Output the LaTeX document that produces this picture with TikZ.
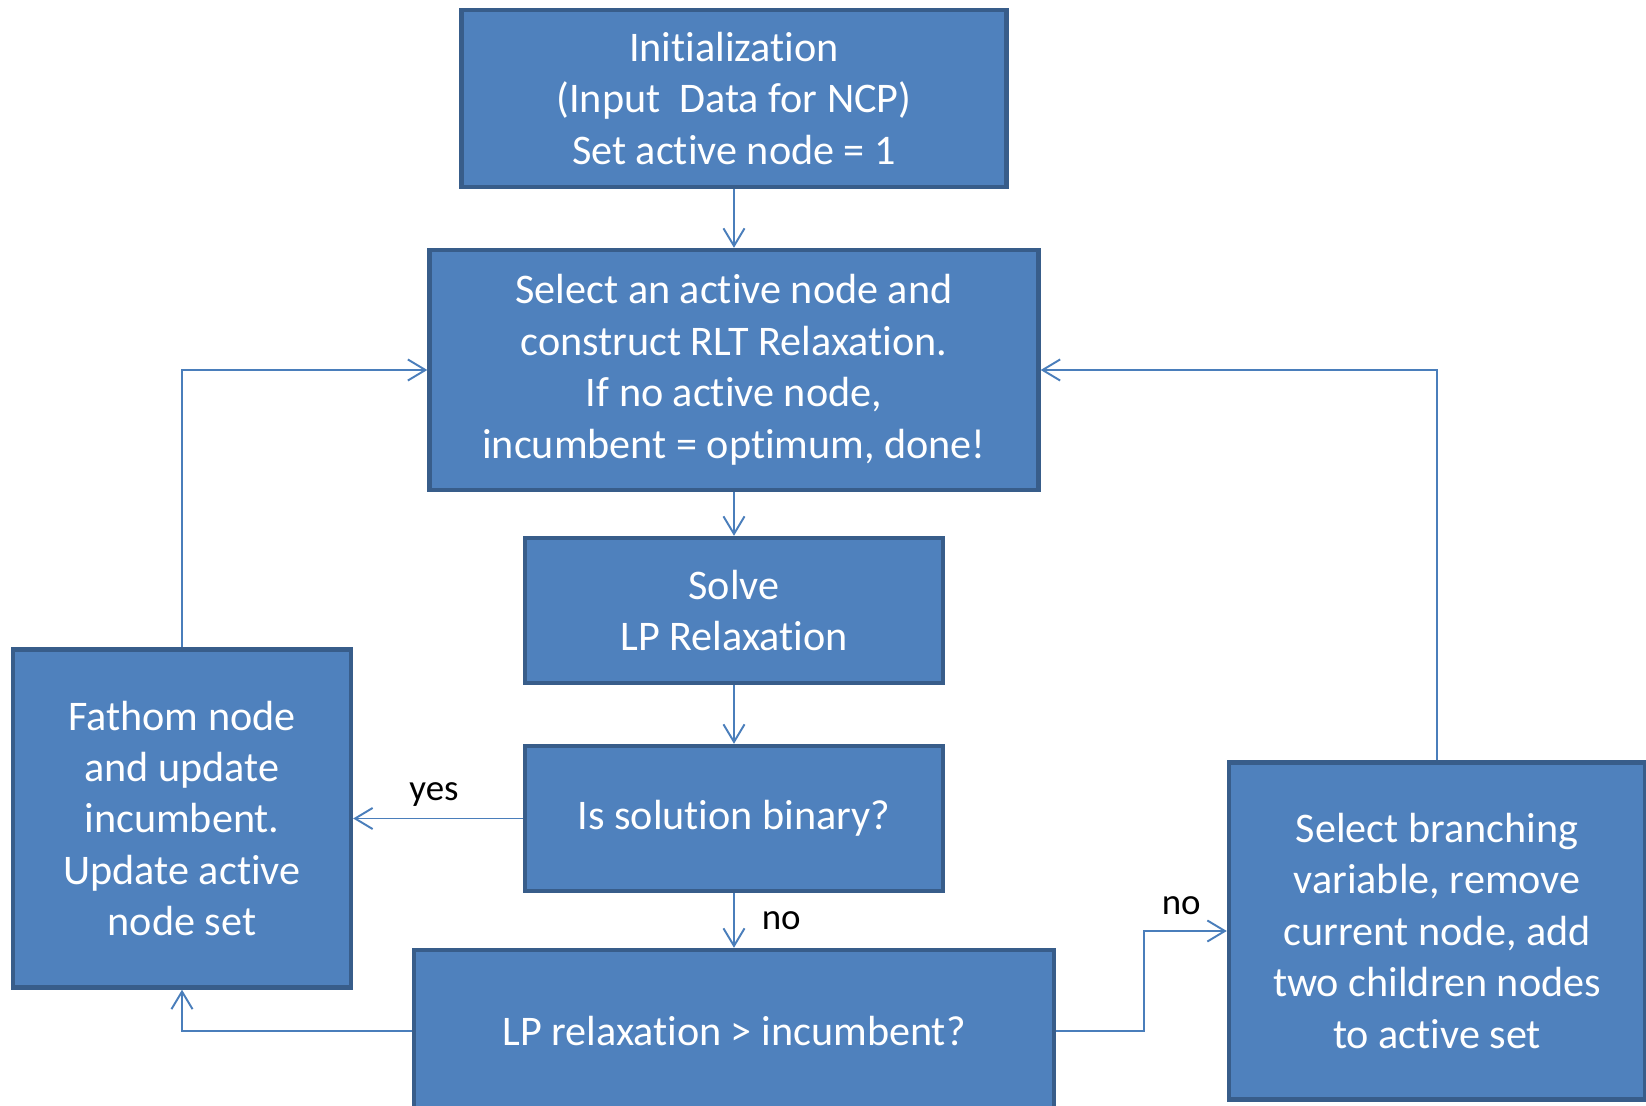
\documentclass[tikz,border=0pt]{standalone}
\usepackage{fontspec}
\setmainfont{Carlito}[Ligatures=NoCommon]
\usetikzlibrary{arrows.meta}
\definecolor{boxfill}{HTML}{4F81BD}
\definecolor{boxline}{HTML}{385D8A}
\definecolor{arrline}{HTML}{4A7EBB}
\tikzset{box/.style={rectangle,draw=boxline,fill=boxfill,line width=2.5pt,text=white,align=center,inner sep=0pt,font=\fontsize{24}{29.3}\selectfont},
  arr/.style={draw=arrline,line width=1.1pt,-{Straight Barb[length=10pt,width=12pt]}},
  lbl/.style={font=\fontsize{21}{25}\selectfont,text=black}}

\begin{document}
\begin{tikzpicture}
      \useasboundingbox (0,0) rectangle (32.92,22.12);
      \clip (0,0) rectangle (32.92,22.12);

      \node[box,minimum width=10.9cm,minimum height=3.54cm] (Init) at (14.68,20.15) {Initialization\\(Input\ \ Data for NCP)\\Set active node = 1};
      \node[box,minimum width=12.18cm,minimum height=4.8cm] (Sel) at (14.68,14.72) {Select an active node and\\construct RLT Relaxation.\\If no active node,\\incumbent = optimum, done!};
      \node[box,minimum width=8.36cm,minimum height=2.9cm] (Solve) at (14.68,9.91) {Solve\\LP Relaxation};
      \node[box,minimum width=8.36cm,minimum height=2.9cm] (Bin) at (14.68,5.75) {Is solution binary?};
      \node[box,minimum width=12.8cm,minimum height=3.24cm] (LP) at (14.68,1.5) {LP relaxation \textgreater{} incumbent?};
      \node[box,minimum width=6.76cm,minimum height=6.76cm] (Fath) at (3.64,5.75) {Fathom node\\and update\\incumbent.\\Update active\\node set};
      \node[box,minimum width=8.32cm,minimum height=6.74cm] (Branch) at (28.74,3.5) {Select branching\\variable, remove\\current node, add\\two children nodes\\to active set};

      \draw[arr] (Init) -- (Sel);
      \draw[arr] (Sel) -- (Solve);
      \draw[arr] (Solve) -- (Bin);
      \draw[arr] (Bin) -- node[lbl,right,xshift=0.42cm] {no} (LP);
      \draw[arr] (Bin) -- node[lbl,above,xshift=-0.08cm,yshift=0.1cm] {yes} (Fath);
      \draw[arr] (LP) -| (Fath);
      \draw[arr] (Fath) |- (Sel);
      \draw[arr] (Branch) |- (Sel);
      \draw[arr] (LP.east) -- ++(1.75,0) |- node[lbl,above,pos=0.75,xshift=-0.08cm,yshift=0.18cm] {no} (Branch);
    \end{tikzpicture}
\end{document}
